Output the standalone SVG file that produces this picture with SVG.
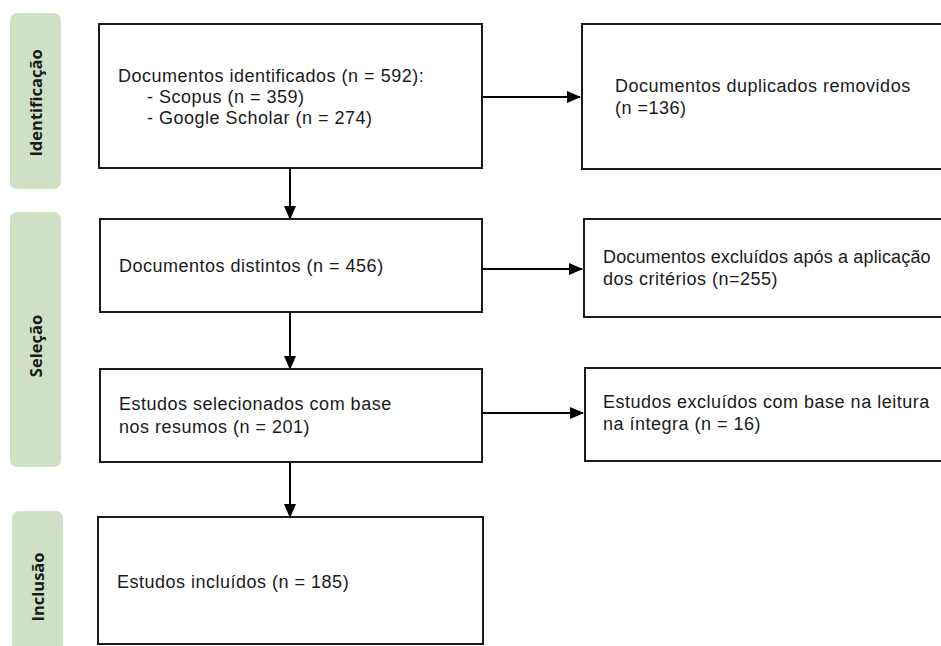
<svg xmlns="http://www.w3.org/2000/svg" width="941" height="646" viewBox="0 0 941 646">
<defs>
<style>
.bar{fill:#cfe0c5}
.box{fill:#fff;stroke:#1a1a1a;stroke-width:2}
.t{font-family:"Liberation Sans",Arial,sans-serif;font-size:18px;letter-spacing:0.5px;fill:#1a1a1a}
.tight{letter-spacing:0.15px}
.lbl{font-family:"Open Sans",Lato,"Liberation Sans",sans-serif;font-size:16.5px;font-weight:bold;fill:#1a1a1a;text-anchor:middle}
.c{stroke:#000;stroke-width:2;fill:none}
</style>
<marker id="ah" markerWidth="14" markerHeight="12" refX="13" refY="6" orient="auto" markerUnits="userSpaceOnUse">
<path d="M0,0 L14,6 L0,12 Z" fill="#000"/>
</marker>
</defs>
<rect width="941" height="646" fill="#fff"/>
<g id="phase-identificacao">
<rect class="bar" x="10" y="13" width="51" height="176" rx="7"/>
<text class="lbl" transform="translate(42,103) rotate(-90)">Identificação</text>
</g>
<g id="phase-selecao">
<rect class="bar" x="10" y="212" width="51" height="255" rx="7"/>
<text class="lbl" transform="translate(42,346) rotate(-90)">Seleção</text>
</g>
<g id="phase-inclusao">
<rect class="bar" x="12" y="511" width="51" height="145" rx="7"/>
<text class="lbl" transform="translate(44,587) rotate(-90)">Inclusão</text>
</g>
<g id="connectors">
<line class="c" x1="482" y1="97" x2="580" y2="97" marker-end="url(#ah)"/>
<line class="c" x1="482" y1="269" x2="582" y2="269" marker-end="url(#ah)"/>
<line class="c" x1="482" y1="413" x2="583" y2="413" marker-end="url(#ah)"/>
<line class="c" x1="290" y1="168" x2="290" y2="219" marker-end="url(#ah)"/>
<line class="c" x1="290" y1="312" x2="290" y2="369" marker-end="url(#ah)"/>
<line class="c" x1="290" y1="462" x2="290" y2="517" marker-end="url(#ah)"/>
</g>
<g id="n-identificados">
<rect class="box" x="99" y="24" width="383" height="144"/>
<text class="t" x="118" y="82">Documentos identificados (n = 592):</text>
<text class="t" x="147" y="103">- Scopus (n = 359)</text>
<text class="t" x="147" y="124">- Google Scholar (n = 274)</text>
</g>
<g id="n-duplicados">
<rect class="box" x="582" y="24" width="370" height="145"/>
<text class="t" x="615" y="92">Documentos duplicados removidos</text>
<text class="t" x="615" y="114">(n =136)</text>
</g>
<g id="n-distintos">
<rect class="box" x="100" y="219" width="382" height="93"/>
<text class="t" x="119" y="272">Documentos distintos (n = 456)</text>
</g>
<g id="n-excluidos-criterios">
<rect class="box" x="584" y="219" width="370" height="98"/>
<text class="t tight" x="603" y="263">Documentos excluídos após a aplicação</text>
<text class="t" x="603" y="285">dos critérios (n=255)</text>
</g>
<g id="n-selecionados">
<rect class="box" x="100" y="369" width="382" height="93"/>
<text class="t" x="119" y="410">Estudos selecionados com base</text>
<text class="t" x="119" y="433">nos resumos (n = 201)</text>
</g>
<g id="n-excluidos-leitura">
<rect class="box" x="585" y="368" width="370" height="93"/>
<text class="t" x="603" y="408">Estudos excluídos com base na leitura</text>
<text class="t" x="603" y="430">na íntegra (n = 16)</text>
</g>
<g id="n-incluidos">
<rect class="box" x="98" y="517" width="385" height="127"/>
<text class="t" x="117" y="588">Estudos incluídos (n = 185)</text>
</g>
</svg>
